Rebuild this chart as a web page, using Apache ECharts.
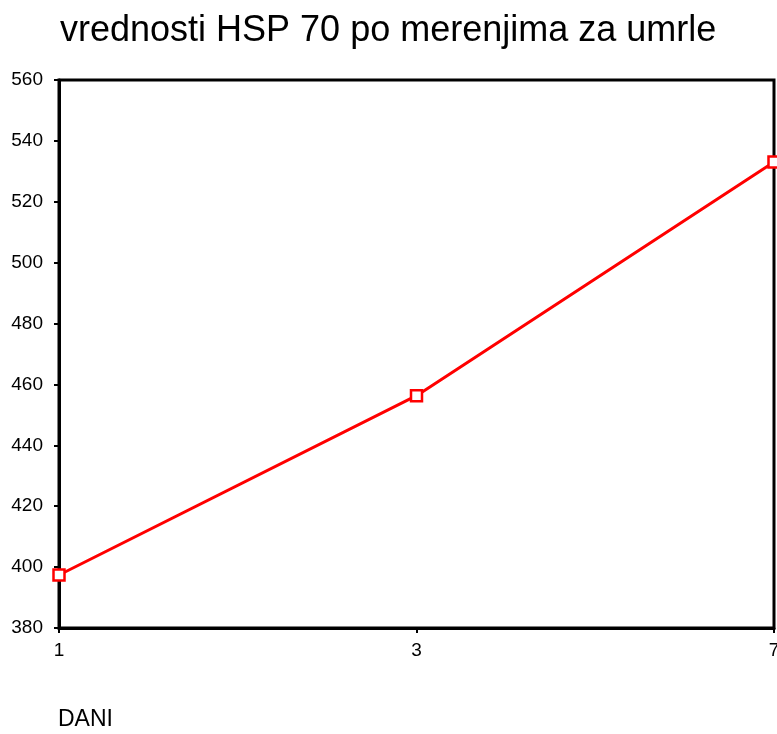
<!DOCTYPE html>
<html>
<head>
    <meta charset="utf-8">
    <title>HSP 70</title>
    <script type="text/javascript" src="https://cdn.jsdelivr.net/npm/echarts@6/dist/echarts.min.js"></script>
    <style>
        body { margin: 0; background: #fff; }
    </style>
</head>
<body>
<div id="chart" style="width: 777px; height: 734px;"></div>
<script type="text/javascript">
    var dani = ['1', '3', '7'];
    var vrednosti = [397.4, 456.3, 533.1];
    var yTicks = [380, 560, 20]; // min, max, interval

    var chart = echarts.init(document.getElementById('chart'));
    var option = {
        backgroundColor: '#fff',
        animation: false,
        title: {
            text: 'vrednosti HSP 70 po merenjima za umrle',
            left: 55,
            top: 8,
            textStyle: {
                fontFamily: 'Liberation Sans',
                fontWeight: 'normal',
                fontSize: 36,
                color: '#000'
            }
        },
        grid: {
            left: 59,
            right: 3,
            top: 80,
            bottom: 106,
            outerBoundsMode: 'none',
            show: true,
            borderColor: '#000',
            borderWidth: 3
        },
        xAxis: {
            type: 'category',
            data: dani,
            boundaryGap: false,
            axisLine: { lineStyle: { color: '#000', width: 3 } },
            axisTick: { show: true, length: 5, lineStyle: { color: '#000', width: 2 } },
            axisLabel: {
                margin: 13,
                color: '#000',
                fontFamily: 'Liberation Sans',
                fontSize: 19
            },
            splitLine: { show: false }
        },
        yAxis: {
            type: 'value',
            min: yTicks[0],
            max: yTicks[1],
            interval: yTicks[2],
            axisLine: { show: true, lineStyle: { color: '#000', width: 3 } },
            axisTick: { show: true, length: 5, lineStyle: { color: '#000', width: 2 } },
            axisLabel: {
                margin: 16,
                color: '#000',
                fontFamily: 'Liberation Sans',
                fontSize: 19
            },
            splitLine: { show: false }
        },
        graphic: [{
            type: 'text',
            left: 58,
            top: 708,
            style: {
                text: 'DANI',
                fontFamily: 'Liberation Sans',
                fontSize: 23,
                fill: '#000'
            }
        }],
        series: [{
            type: 'line',
            data: vrednosti,
            symbol: 'rect',
            symbolSize: 11,
            showAllSymbol: true,
            lineStyle: { color: '#ff0000', width: 3 },
            itemStyle: { color: '#fff', borderColor: '#ff0000', borderWidth: 2.5 }
        }]
    };
    chart.setOption(option);
</script>
</body>
</html>
